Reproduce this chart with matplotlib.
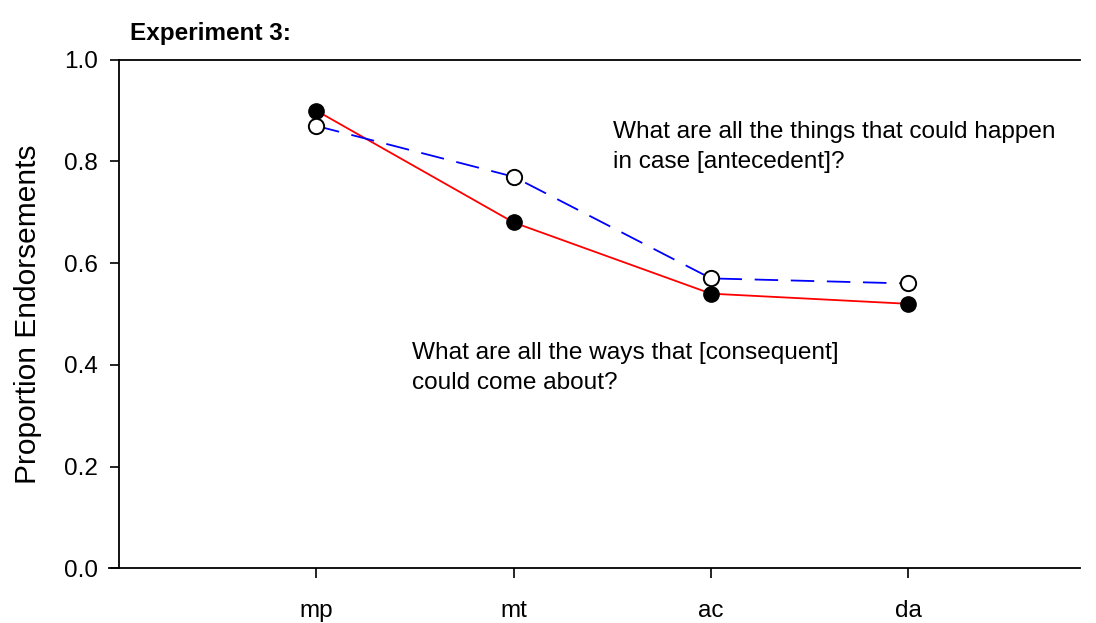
import matplotlib
matplotlib.use("Agg")
import matplotlib.pyplot as plt

plt.rcParams['font.family'] = ['Liberation Sans', 'DejaVu Sans']

conditions = ['mp', 'mt', 'ac', 'da']
consequent = [0.90, 0.68, 0.54, 0.52]
antecedent = [0.87, 0.77, 0.57, 0.56]
positions = [1, 2, 3, 4]

fig = plt.figure(figsize=(10.96, 6.23), dpi=100)
ax = fig.add_axes([0.1086, 0.088, 0.8768, 0.816])

ax.plot(positions, consequent, color='red', lw=1.3, zorder=2)
ax.plot(positions, consequent, 'o', ms=11, mfc='black', mec='black', zorder=3)
ax.plot(positions, antecedent, color='blue', lw=1.3, dashes=(13, 7), zorder=2)
ax.plot(positions, antecedent, 'o', ms=11, mfc='white', mec='black', mew=1.4, zorder=3)

ax.set_xlim(0, 4.87)
ax.set_ylim(0, 1.0)
ax.set_xticks(positions)
ax.set_xticklabels(conditions)
ax.set_yticks([0.0, 0.2, 0.4, 0.6, 0.8, 1.0])
ax.set_yticklabels(['0.0', '0.2', '0.4', '0.6', '0.8', '1.0'])
ax.tick_params(axis='y', direction='out', length=6.5, width=1.2, labelsize=17.5, pad=8.5)
ax.tick_params(axis='x', direction='out', length=7, width=1.2, labelsize=17.5, pad=16)
ax.spines['right'].set_visible(False)
for s in ['left', 'top', 'bottom']:
    ax.spines[s].set_linewidth(1.3)
ax.spines['bottom'].set_bounds(-0.05, 4.87)

ax.set_ylabel('Proportion Endorsements', fontsize=21.5, labelpad=16)

ax.text(2.504, 0.829, 'What are all the things that could happen\nin case [antecedent]?',
        fontsize=17.6, ha='left', va='center', linespacing=1.45)
ax.text(1.485, 0.394, 'What are all the ways that [consequent]\ncould come about?',
        fontsize=17.6, ha='left', va='center', linespacing=1.45)

fig.text(0.119, 0.947, 'Experiment 3:', fontsize=17.5, fontweight='bold', ha='left', va='center')

fig.savefig('out.png', dpi=100)
